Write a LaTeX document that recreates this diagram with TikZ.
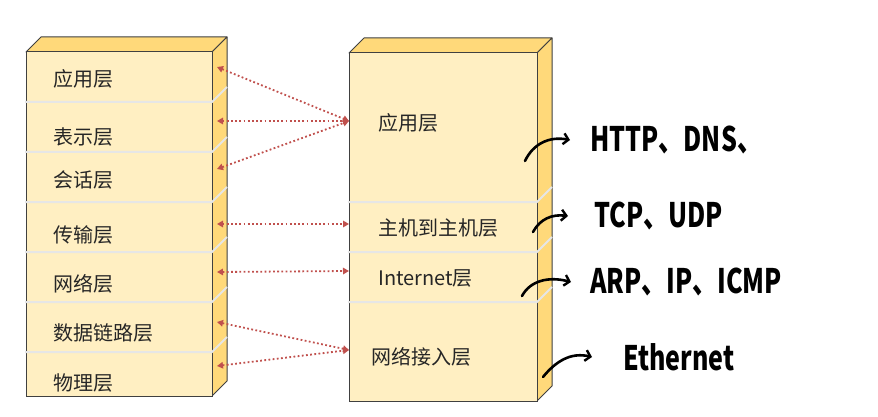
\documentclass[tikz,border=0pt]{standalone}
\usepackage{fontspec}
\setmainfont{Noto Sans CJK SC}
\usepackage{tikz}
\usetikzlibrary{arrows.meta,positioning,calc}
\usepackage{xcolor}
\definecolor{frontc}{HTML}{FFEFC2}
\definecolor{sidec}{HTML}{FFD97A}
\definecolor{edgec}{HTML}{404040}
\definecolor{sepc}{HTML}{E6E6E6}
\definecolor{linkc}{HTML}{C0504D}
\newcommand{\tallnote}[1]{\scalebox{1}[1.35]{#1}}

\begin{document}
\begin{tikzpicture}[x=1pt, y=-1pt,
  front/.style={fill=frontc, draw=edgec, line width=1pt},
  side/.style={fill=sidec, draw=edgec, line width=1pt, line join=round},
  sep/.style={draw=sepc, line width=2pt},
  lyr/.style={font=\fontsize{20}{20}\selectfont, text=black!85, anchor=west, inner sep=0pt},
  link/.style={{Triangle[length=6pt,width=6.5pt]}-{Triangle[length=6pt,width=6.5pt]}, draw=linkc, line width=1.8pt, dash pattern=on 1.8pt off 2.4pt},
  hand/.style={-{Straight Barb[length=5pt,width=11pt,line width=2.4pt]}, line width=2.6pt, line cap=round},
  note/.style={font=\fontsize{25}{25}\selectfont\bfseries, anchor=west, inner sep=0pt}
]
\useasboundingbox (0,0) rectangle (878,417);

% OSI stack
\draw[side] (26,52) -- (41,37) -- (227,37) -- (212,52) -- cycle;
\draw[side] (212,52) -- (227,37) -- (227,381) -- (212,396) -- cycle;
\draw[front] (26,52) rectangle (212,396);
\foreach \y in {102,152,202,252,302,352}
  \draw[sep] (25,\y) -- (212,\y) -- (227,\y-15);

\node[lyr] (osi7) at (53,79) {应用层};
\node[lyr] (osi6) at (53,137) {表示层};
\node[lyr] (osi5) at (53,180) {会话层};
\node[lyr] (osi4) at (53,235) {传输层};
\node[lyr] (osi3) at (53,284) {网络层};
\node[lyr] (osi2) at (53,333) {数据链路层};
\node[lyr] (osi1) at (53,383) {物理层};

% TCP/IP stack
\draw[side] (349,53) -- (364,38) -- (552,38) -- (537,53) -- cycle;
\draw[side] (537,53) -- (552,38) -- (552,386) -- (537,401) -- cycle;
\draw[front] (349,53) rectangle (537,401);
\foreach \y in {202,252,302}
  \draw[sep] (348,\y) -- (537,\y) -- (552,\y-15);

\node[lyr] (tcp4) at (378,123) {应用层};
\node[lyr] (tcp3) at (378,228) {主机到主机层};
\node[lyr] (tcp2) at (378,278) {Internet层};
\node[lyr] (tcp1) at (371,357) {网络接入层};

% Mapping
\coordinate (p7) at (217,67);
\coordinate (p6) at (217,121);
\coordinate (p5) at (217,169);
\coordinate (p4) at (217,224);
\coordinate (p3) at (217,272);
\coordinate (p2) at (217,322);
\coordinate (p1) at (217,366);
\coordinate (q4) at (349,121);
\coordinate (q3) at (349,224);
\coordinate (q2) at (349,271);
\coordinate (q1) at (349,350);
\draw[link] (p7) -- (q4);
\draw[link] (p6) -- (q4);
\draw[link] (p5) -- (q4);
\draw[link] (p4) -- (q3);
\draw[link] (p3) -- (q2);
\draw[link] (p2) -- (q1);
\draw[link] (p1) -- (q1);

% Protocols
\node[note] (app) at (590,140) {\tallnote{HTTP、DNS、}};
\node[note] (trans) at (594,216) {\tallnote{TCP、UDP}};
\node[note] (inet) at (590,282) {\tallnote{ARP、IP、ICMP}};
\node[note] (link) at (623,357) {\tallnote{Ethernet}};
\coordinate (h4) at (525,161);
\coordinate (h3) at (533,232);
\coordinate (h2) at (522,296);
\coordinate (h1) at (543,377);
\draw[hand] (h4) .. controls (533,144) and (549,136) .. ([xshift=-20pt]app.west);
\draw[hand] (h3) .. controls (540,219) and (552,214) .. ([xshift=-26pt]trans.west);
\draw[hand] (h2) .. controls (530,281) and (548,276) .. ([xshift=-19pt]inet.west);
\draw[hand] (h1) .. controls (556,361) and (571,352) .. ([xshift=-31pt]link.west);

\end{tikzpicture}
\end{document}
